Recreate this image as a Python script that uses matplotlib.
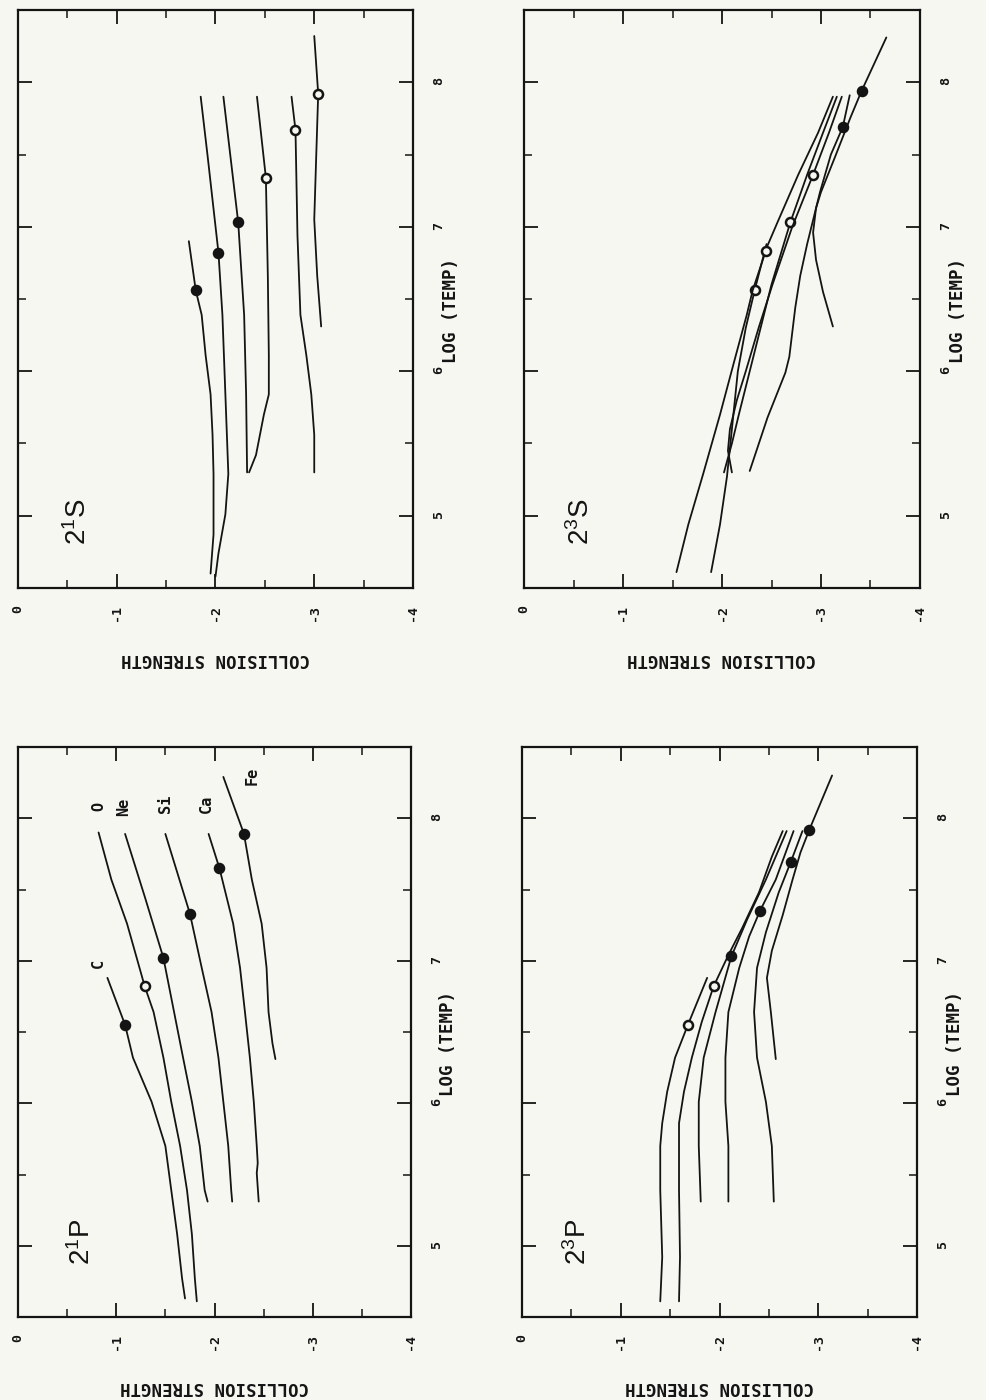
import numpy as np
import matplotlib
matplotlib.use("Agg")
import matplotlib.pyplot as plt
from matplotlib.ticker import FixedLocator

# helium-like ions: log collision strength vs log temperature
ELEMENTS = ["C", "O", "Ne", "Si", "Ca", "Fe"]

# ---- 2 1S ----
S1_LOGT = {
    "C":  [4.60, 4.87, 5.29, 5.56, 5.84, 6.11, 6.39, 6.56, 6.90],
    "O":  [4.58, 4.74, 5.01, 5.29, 5.84, 6.39, 6.82, 7.49, 7.90],
    "Ne": [5.30, 5.84, 6.39, 7.03, 7.90],
    "Si": [5.30, 5.42, 5.70, 5.84, 6.11, 6.66, 7.34, 7.90],
    "Ca": [5.30, 5.56, 5.84, 6.11, 6.39, 6.94, 7.67, 7.90],
    "Fe": [6.31, 6.66, 7.05, 7.49, 7.92, 8.32],
}
S1_CS = {
    "C":  [-1.95, -1.98, -1.98, -1.97, -1.95, -1.90, -1.86, -1.80, -1.73],
    "O":  [-2.00, -2.03, -2.10, -2.13, -2.10, -2.07, -2.03, -1.92, -1.85],
    "Ne": [-2.32, -2.31, -2.29, -2.23, -2.08],
    "Si": [-2.34, -2.41, -2.49, -2.54, -2.54, -2.53, -2.51, -2.42],
    "Ca": [-3.00, -3.00, -2.97, -2.92, -2.86, -2.83, -2.81, -2.77],
    "Fe": [-3.07, -3.03, -3.00, -3.02, -3.04, -3.00],
}
S1_DOT_T = [6.56, 6.82, 7.03, 7.34, 7.67, 7.92]
S1_DOT_FILLED = [True, True, True, False, False, False]

# ---- 2 1P ----
P1_LOGT = {
    "C":  [4.63, 4.77, 5.08, 5.39, 5.70, 6.01, 6.32, 6.55, 6.88],
    "O":  [4.61, 4.77, 5.08, 5.39, 5.70, 6.01, 6.32, 6.64, 6.82, 7.26, 7.57, 7.90],
    "Ne": [5.31, 5.39, 5.70, 6.01, 6.32, 7.02, 7.45, 7.89],
    "Si": [5.31, 5.39, 5.70, 6.01, 6.32, 6.64, 6.95, 7.33, 7.89],
    "Ca": [5.31, 5.51, 5.58, 5.70, 6.01, 6.32, 6.64, 6.95, 7.26, 7.65, 7.89],
    "Fe": [6.31, 6.42, 6.64, 6.95, 7.26, 7.57, 7.89, 8.29],
}
P1_CS = {
    "C":  [-1.70, -1.67, -1.62, -1.56, -1.50, -1.36, -1.17, -1.09, -0.91],
    "O":  [-1.82, -1.80, -1.77, -1.72, -1.65, -1.56, -1.48, -1.38, -1.29, -1.11, -0.95, -0.82],
    "Ne": [-1.93, -1.90, -1.85, -1.77, -1.68, -1.48, -1.29, -1.09],
    "Si": [-2.18, -2.17, -2.14, -2.09, -2.04, -1.97, -1.87, -1.75, -1.50],
    "Ca": [-2.45, -2.43, -2.44, -2.43, -2.40, -2.36, -2.31, -2.26, -2.19, -2.05, -1.94],
    "Fe": [-2.62, -2.59, -2.55, -2.53, -2.48, -2.38, -2.30, -2.09],
}
P1_DOT_T = [6.55, 6.82, 7.02, 7.33, 7.65, 7.89]
P1_DOT_FILLED = [True, False, True, True, True, True]

# ---- 2 3S ----
S3_LOGT = {
    "C":  [4.61, 4.94, 5.27, 5.60, 6.00, 6.30, 6.56, 6.88],
    "O":  [4.61, 4.94, 5.29, 5.70, 6.06, 6.39, 6.56, 6.87, 7.03, 7.36, 7.65, 7.90],
    "Ne": [5.30, 5.50, 5.70, 6.00, 6.30, 6.60, 7.03, 7.36, 7.65, 7.90],
    "Si": [5.30, 5.45, 5.60, 5.80, 6.00, 6.30, 6.60, 7.00, 7.36, 7.65, 7.90],
    "Ca": [5.31, 5.68, 5.99, 6.10, 6.44, 6.66, 6.88, 7.24, 7.50, 7.69, 7.91],
    "Fe": [6.31, 6.55, 6.77, 6.96, 7.13, 7.24, 7.48, 7.76, 7.94, 8.31],
}
S3_CS = {
    "C":  [-1.89, -1.98, -2.05, -2.10, -2.16, -2.24, -2.33, -2.45],
    "O":  [-1.54, -1.66, -1.81, -1.98, -2.12, -2.25, -2.31, -2.46, -2.56, -2.77, -2.97, -3.12],
    "Ne": [-2.02, -2.10, -2.17, -2.28, -2.39, -2.50, -2.69, -2.86, -3.02, -3.16],
    "Si": [-2.10, -2.06, -2.08, -2.15, -2.24, -2.37, -2.51, -2.71, -2.92, -3.08, -3.21],
    "Ca": [-2.28, -2.46, -2.64, -2.68, -2.74, -2.79, -2.86, -2.99, -3.10, -3.22, -3.29],
    "Fe": [-3.12, -3.02, -2.95, -2.92, -2.95, -3.00, -3.14, -3.30, -3.41, -3.66],
}
S3_DOT_T = [6.56, 6.83, 7.03, 7.36, 7.69, 7.94]
S3_DOT_FILLED = [False, False, False, False, True, True]

# ---- 2 3P ----
P3_LOGT = {
    "C":  [4.61, 4.92, 5.39, 5.70, 5.86, 6.08, 6.32, 6.55, 6.88],
    "O":  [4.61, 4.92, 5.39, 5.86, 6.08, 6.32, 6.57, 6.82, 7.04, 7.23, 7.48, 7.73, 7.91],
    "Ne": [5.31, 5.70, 6.01, 6.32, 6.64, 7.03, 7.29, 7.57, 7.91],
    "Si": [5.31, 5.70, 6.01, 6.32, 6.64, 6.95, 7.17, 7.35, 7.57, 7.91],
    "Ca": [5.31, 5.70, 6.01, 6.32, 6.64, 6.95, 7.20, 7.48, 7.69, 7.91],
    "Fe": [6.31, 6.64, 6.88, 7.07, 7.32, 7.57, 7.76, 7.92, 8.30],
}
P3_CS = {
    "C":  [-1.40, -1.42, -1.40, -1.40, -1.42, -1.47, -1.55, -1.68, -1.875],
    "O":  [-1.59, -1.60, -1.59, -1.59, -1.64, -1.72, -1.82, -1.94, -2.09, -2.23, -2.40, -2.53, -2.64],
    "Ne": [-1.81, -1.79, -1.79, -1.84, -1.96, -2.12, -2.28, -2.47, -2.68],
    "Si": [-2.09, -2.09, -2.06, -2.06, -2.09, -2.20, -2.30, -2.41, -2.57, -2.75],
    "Ca": [-2.55, -2.53, -2.47, -2.38, -2.35, -2.38, -2.47, -2.60, -2.72, -2.84],
    "Fe": [-2.57, -2.52, -2.48, -2.53, -2.64, -2.74, -2.82, -2.91, -3.14],
}
P3_DOT_T = [6.55, 6.82, 7.03, 7.35, 7.69, 7.92]
P3_DOT_FILLED = [False, False, True, True, True, True]

CS_TICKS = [0, -1, -2, -3, -4]
CS_TICK_LABELS = ["0", "-1", "-2", "-3", "-4"]
T_TICKS = [5, 6, 7, 8]
T_TICK_LABELS = ["5", "6", "7", "8"]

INK = "#141414"
BG = "#f7f7f2"
MONO = "DejaVu Sans Mono"

plt.rcParams["mathtext.fontset"] = "custom"
plt.rcParams["mathtext.rm"] = "Liberation Sans"
plt.rcParams["mathtext.default"] = "rm"

# element names written next to the curves in the 2 1P panel (cs, logT)
ELEMENT_LABEL_POS = {
    "C": (-0.82, 6.98), "O": (-0.82, 8.08), "Ne": (-1.07, 8.08),
    "Si": (-1.50, 8.10), "Ca": (-1.92, 8.10), "Fe": (-2.38, 8.30),
}


def draw_panel(fig, rect, logt, cs, dot_t, dot_filled, title, title_pos, element_labels=False):
    ax = fig.add_axes(rect)
    ax.set_facecolor(BG)

    for el, t_dot, filled in zip(ELEMENTS, dot_t, dot_filled):
        t = np.array(logt[el])
        s = np.array(cs[el])
        ax.plot(s, t, color=INK, lw=1.3, solid_capstyle="round")
        s_dot = np.interp(t_dot, t, s)
        ax.plot(s_dot, t_dot, "o", ms=6.5, mec=INK, mew=1.8,
                mfc=INK if filled else BG)

    ax.set_xlim(0, -4)
    ax.set_ylim(4.5, 8.5)
    ax.set_xticks(CS_TICKS)
    ax.set_xticklabels(CS_TICK_LABELS, family=MONO, weight="bold", fontsize=9.5)
    ax.xaxis.set_minor_locator(FixedLocator([-0.5, -1.5, -2.5, -3.5]))
    ax.set_yticks(T_TICKS)
    ax.set_yticklabels(T_TICK_LABELS, family=MONO, weight="bold", fontsize=9.5)
    ax.yaxis.set_minor_locator(FixedLocator([5.5, 6.5, 7.5]))

    ax.tick_params(which="both", direction="in", top=True, bottom=True,
                   left=True, right=True, color=INK, labelcolor=INK)
    ax.tick_params(which="major", length=10, width=1.3)
    ax.tick_params(which="minor", length=5.5, width=1.1)
    ax.tick_params(axis="x", labelrotation=90, pad=12)
    ax.tick_params(axis="y", labelleft=False, labelright=True, labelrotation=90, pad=14)
    for sp in ax.spines.values():
        sp.set_linewidth(1.6)
        sp.set_color(INK)

    ax.text(0.5, -0.122, "COLLISION STRENGTH", transform=ax.transAxes, rotation=180,
            ha="center", va="center", family=MONO, weight="bold", fontsize=12.5, color=INK)
    ax.text(1.095, 0.48, "LOG (TEMP)", transform=ax.transAxes, rotation=90,
            ha="center", va="center", family=MONO, weight="bold", fontsize=12.5, color=INK)

    ax.text(title_pos[0], title_pos[1], title, rotation=90, ha="center", va="center",
            fontsize=20, color=INK)

    if element_labels:
        for el in ELEMENTS:
            x, y = ELEMENT_LABEL_POS[el]
            ax.text(x, y, el, rotation=90, ha="center", va="center",
                    family=MONO, weight="bold", fontsize=11, color=INK)
    return ax


def main():
    W, H = 987, 1400
    fig = plt.figure(figsize=(W / 100, H / 100), dpi=100)
    fig.patch.set_facecolor(BG)

    def rect(x0, x1, y0, y1):
        return [x0 / W, 1 - y1 / H, (x1 - x0) / W, (y1 - y0) / H]

    draw_panel(fig, rect(18, 413, 10, 588), S1_LOGT, S1_CS, S1_DOT_T, S1_DOT_FILLED,
               r"$2^{1}S$", (-0.61, 4.96))
    draw_panel(fig, rect(18, 411, 747, 1317), P1_LOGT, P1_CS, P1_DOT_T, P1_DOT_FILLED,
               r"$2^{1}P$", (-0.65, 5.03), element_labels=True)
    draw_panel(fig, rect(524, 920, 10, 588), S3_LOGT, S3_CS, S3_DOT_T, S3_DOT_FILLED,
               r"$2^{3}S$", (-0.58, 4.96))
    draw_panel(fig, rect(522, 917, 747, 1317), P3_LOGT, P3_CS, P3_DOT_T, P3_DOT_FILLED,
               r"$2^{3}P$", (-0.57, 5.03))

    fig.savefig("out.png", dpi=100, facecolor=BG)
    plt.close(fig)


if __name__ == "__main__":
    main()
